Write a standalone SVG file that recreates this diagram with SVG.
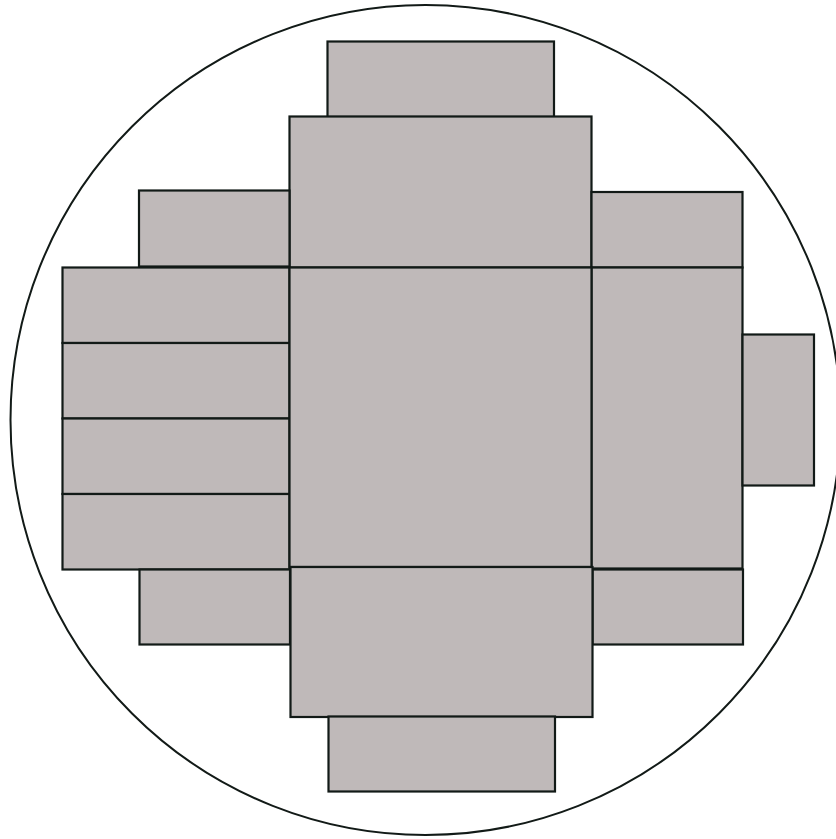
<svg xmlns="http://www.w3.org/2000/svg" width="836" height="839" viewBox="0 0 836 839">
<style>
.p{fill:#bfb9b9;stroke:#121a17;stroke-width:2.2}
.c{fill:#ffffff;stroke:#121a17;stroke-width:2}
</style>
<rect width="836" height="839" fill="#ffffff"/>
<circle class="c" cx="425.5" cy="420" r="415"/>
<g id="net">
<rect id="top-tab" class="p" x="327.5" y="41.5" width="226.5" height="75.5"/>
<rect id="top-panel" class="p" x="289.5" y="116.5" width="302" height="151"/>
<rect id="left-top" class="p" x="139" y="190.5" width="150.5" height="76"/>
<rect id="right-top" class="p" x="591.5" y="192" width="151" height="75.5"/>
<rect id="left-1" class="p" x="62.5" y="267.5" width="227" height="75.5"/>
<rect id="left-2" class="p" x="62.5" y="343" width="227" height="75.5"/>
<rect id="left-3" class="p" x="62.5" y="418.5" width="227" height="75.5"/>
<rect id="left-4" class="p" x="62.5" y="494" width="227" height="75.5"/>
<rect id="right-col" class="p" x="591.5" y="267.5" width="151" height="301"/>
<rect id="right-tab" class="p" x="742.5" y="334.5" width="71.5" height="151"/>
<rect id="center" class="p" x="289.5" y="267.5" width="302" height="299.5"/>
<rect id="left-bottom" class="p" x="139.5" y="569.5" width="150.5" height="75"/>
<rect id="right-bottom" class="p" x="592.5" y="569.5" width="150.5" height="75"/>
<rect id="bottom-panel" class="p" x="290.5" y="567" width="302" height="150"/>
<rect id="bottom-tab" class="p" x="328.5" y="716.5" width="226.5" height="75"/>
</g>
</svg>
